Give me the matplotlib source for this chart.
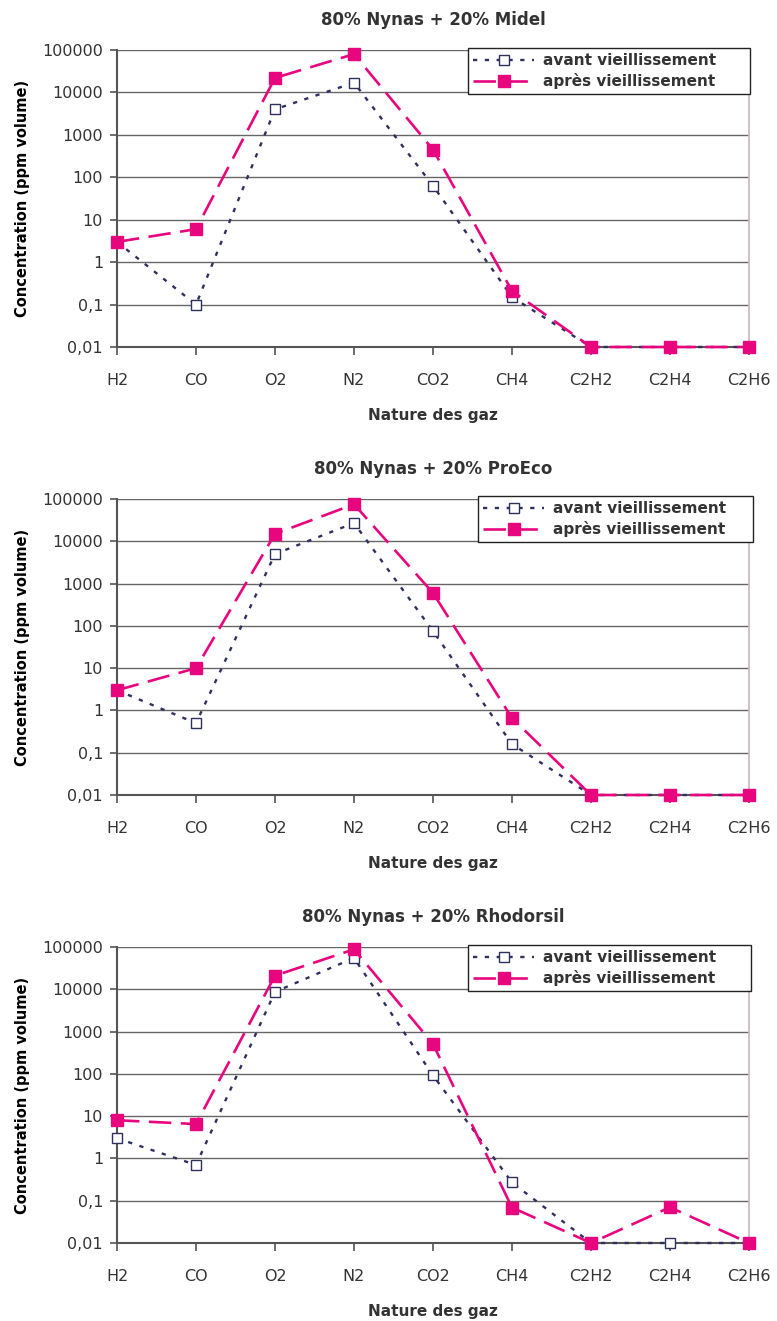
#!/usr/bin/env python3
import matplotlib
matplotlib.use("Agg")
import matplotlib.pyplot as plt
from matplotlib.ticker import FixedLocator, FixedFormatter, NullLocator

plt.rcParams["font.family"] = ["DejaVu Sans"]

GASES = ["H2", "CO", "O2", "N2", "CO2", "CH4", "C2H2", "C2H4", "C2H6"]
Y_TICKS = [0.01, 0.1, 1, 10, 100, 1000, 10000, 100000]
Y_LABELS = ["0,01", "0,1", "1", "10", "100", "1000", "10000", "100000"]

TITLES = [
    "80% Nynas + 20% Midel",
    "80% Nynas + 20% ProEco",
    "80% Nynas + 20% Rhodorsil",
]

midel_avant = [3, 0.1, 4000, 17000, 63, 0.15, 0.01, 0.01, 0.01]
midel_apres = [3, 6, 22000, 80000, 450, 0.21, 0.01, 0.01, 0.01]

proeco_avant = [3, 0.5, 5000, 27000, 75, 0.16, 0.01, 0.01, 0.01]
proeco_apres = [3, 10, 15000, 75000, 600, 0.66, 0.01, 0.01, 0.01]

rhodorsil_avant = [3, 0.7, 8700, 55000, 92, 0.27, 0.01, 0.01, 0.01]
rhodorsil_apres = [8, 6.5, 21000, 88000, 510, 0.069, 0.01, 0.07, 0.01]

SERIES = [
    (midel_avant, midel_apres),
    (proeco_avant, proeco_apres),
    (rhodorsil_avant, rhodorsil_apres),
]

NAVY = "#30305f"
PINK = "#e8067f"
TEXT = "#333333"
GRID = "#666666"

W, H = 777, 1321
LEFT, RIGHT = 117, 749
PANELS = [(50, 347), (499, 795), (947, 1243)]
# legend boxes in axes coords: (x0, y0, width, height)
LEGEND_BOXES = [
    (0.555, 0.80, 0.447, 0.207),
    (0.571, 0.80, 0.435, 0.210),
    (0.555, 0.80, 0.448, 0.207),
]


def style_axes(ax, title):
    ax.set_yscale("log")
    ax.set_ylim(0.01, 100000)
    ax.set_xlim(0, len(GASES) - 1)
    ax.yaxis.set_major_locator(FixedLocator(Y_TICKS))
    ax.yaxis.set_major_formatter(FixedFormatter(Y_LABELS))
    ax.yaxis.set_minor_locator(NullLocator())
    ax.set_xticks(range(len(GASES)))
    ax.set_xticklabels(GASES)

    ax.grid(axis="y", color=GRID, linewidth=1.0)
    ax.set_axisbelow(True)

    ax.spines["top"].set_visible(False)
    ax.spines["left"].set_color("#555555")
    ax.spines["left"].set_linewidth(1.5)
    ax.spines["bottom"].set_color("#555555")
    ax.spines["bottom"].set_linewidth(1.5)
    ax.spines["right"].set_color("#c8b8b8")
    ax.spines["right"].set_linewidth(1.2)

    ax.tick_params(axis="y", direction="out", length=5, width=1.2,
                   color="#555555", labelsize=11.5, labelcolor=TEXT, pad=5)
    ax.tick_params(axis="x", direction="out", length=6, width=1.2,
                   color="#555555", labelsize=11.5, labelcolor=TEXT, pad=13)

    ax.set_title(title, fontsize=12, fontweight="bold", color=TEXT, pad=18)
    ax.set_xlabel("Nature des gaz", fontsize=11, fontweight="bold",
                  color=TEXT, labelpad=14)
    ax.set_ylabel("Concentration (ppm volume)", fontsize=10.5,
                  fontweight="bold", color="black", labelpad=9)


fig = plt.figure(figsize=(W / 100, H / 100), dpi=100)

for (top, bottom), title, (avant, apres), box in zip(
        PANELS, TITLES, SERIES, LEGEND_BOXES):
    ax = fig.add_axes([LEFT / W, 1 - bottom / H, (RIGHT - LEFT) / W,
                       (bottom - top) / H])
    x = range(len(GASES))
    ax.plot(x, avant, color=NAVY, linewidth=1.7, dashes=(1.8, 3.2),
            marker="s", markersize=7.5, markerfacecolor="white",
            markeredgecolor=NAVY, markeredgewidth=1.0,
            label="avant vieillissement", zorder=3, clip_on=False)
    ax.plot(x, apres, color=PINK, linewidth=1.9, dashes=(8.5, 3.6),
            marker="s", markersize=8, markerfacecolor=PINK,
            markeredgecolor=PINK, label="après vieillissement",
            zorder=4, clip_on=False)
    style_axes(ax, title)

    leg = ax.legend(loc="upper left", bbox_to_anchor=box, mode="expand",
                    borderaxespad=0, fancybox=False, framealpha=1,
                    edgecolor="#222222", handlelength=4.0,
                    borderpad=0.35, labelspacing=0.3, handletextpad=0.6,
                    prop={"size": 11, "weight": "bold"})
    leg.get_frame().set_linewidth(1.0)
    leg.set_zorder(10)
    for t in leg.get_texts():
        t.set_color(TEXT)

fig.savefig("out.png", dpi=100)
